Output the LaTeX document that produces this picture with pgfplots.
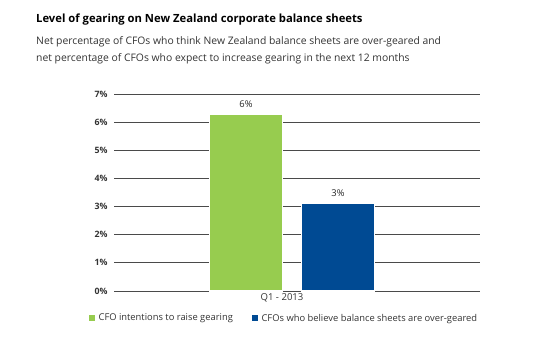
\documentclass[border=0pt]{standalone}
\usepackage{pgfplots}
\pgfplotsset{compat=1.18}
\usepackage{fontspec}
\setmainfont{Open Sans}
\definecolor{cgreen}{HTML}{97CC4F}
\definecolor{cblue}{HTML}{004A93}
\definecolor{cgrid}{HTML}{4A4A4A}
\definecolor{ctext}{HTML}{333333}
\begin{document}
\begin{tikzpicture}[x=1bp,y=1bp]
\path[use as bounding box] (0,0) rectangle (550,339);
\node[anchor=west,font=\fontsize{11.3}{13}\selectfont\bfseries,text=black,inner sep=0pt] at (36,319) {Level of gearing on New Zealand corporate balance sheets};
\node[anchor=west,font=\fontsize{10.4}{13}\selectfont,text=ctext,inner sep=0pt] at (36,297) {Net percentage of CFOs who think New Zealand balance sheets are over-geared and};
\node[anchor=west,font=\fontsize{10.4}{13}\selectfont,text=ctext,inner sep=0pt] at (36,280) {net percentage of CFOs who expect to increase gearing in the next 12 months};
\begin{axis}[
  at={(114bp,48bp)}, anchor=south west,
  scale only axis, width=366bp, height=197bp,
  ymin=0, ymax=7, ytick={0,1,...,7},
  /pgf/number format/assume math mode=true,
  yticklabel={\pgfmathprintnumber{\tick}\%},
  xmin=-178, xmax=188,
  xtick={-10}, xticklabels={Q1 - 2013},
  axis line style={draw=none},
  major tick length=0pt,
  ymajorgrids, grid style={draw=cgrid, line width=0.9pt},
  tick label style={font=\fontsize{9.6}{11}\selectfont, text=ctext},
  yticklabel style={xshift=-3bp, font=\fontsize{8.8}{10}\selectfont\bfseries},
  xticklabel style={yshift=1bp},
  ybar, bar width=73, 
  point meta=explicit symbolic,
  nodes near coords,
  nodes near coords style={font=\fontsize{9.4}{10}\selectfont, text=black!85, yshift=3bp},
  clip=false,
  legend style={at={(-0.08,-0.095)}, anchor=north west, draw=none, fill=none,
    legend columns=2, font=\fontsize{9.4}{11}\selectfont, text=ctext,
    /tikz/every even column/.append style={column sep=16bp}},
  legend image code/.code={\fill[#1] (0bp,-3.8bp) rectangle (7.5bp,3.8bp);},
]
\addplot[fill=cgreen, draw=white, line width=1.2pt, bar shift=0pt] coordinates {(-46,6.27) [6\%]};
\addlegendentry{CFO intentions to raise gearing}
\addplot[fill=cblue, draw=white, line width=1.2pt, bar shift=0pt] coordinates {(46,3.1) [3\%]};
\addlegendentry{CFOs who believe balance sheets are over-geared}
\end{axis}
\end{tikzpicture}
\end{document}
